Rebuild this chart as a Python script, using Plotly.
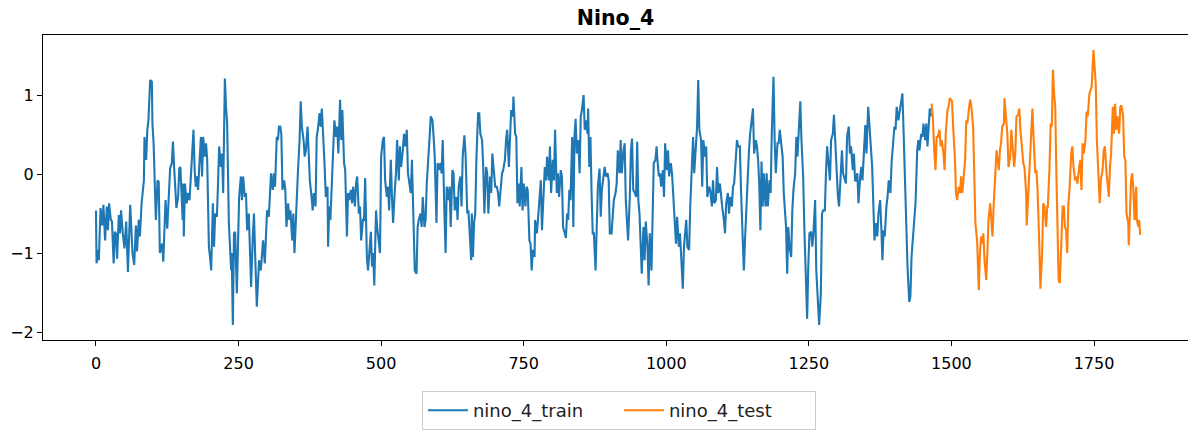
import plotly.graph_objects as go

# ---- data (time index, anomaly value) ----
train_x = [
    0,1,4,5,8,11,13,16,19,21,23,26,28,31,33,35,37,40,42,44,47,50,53,56,60,64,67,70,72,75,
    77,80,84,85,88,90,92,95,98,99,101,103,105,108,110,112,116,118,122,125,127,130,133,135,137,139,141,144,146,148,
    150,152,153,
    154,156,159,161,164,166,168,171,173,175,177,179,181,184,186,188,191,193,195,198,
    200,202,205,207,209,212,214,216,219,221,223,226,228,230,233,235,237,238,240,242,
    244,247,249,251,254,256,258,261,263,265,268,270,272,275,277,279,282,284,286,289,
    291,293,296,298,300,303,305,307,310,312,314,317,319,321,
    323,325,327,330,332,334,337,339,341,344,346,348,350,352,354,357,359,361,364,366,
    368,371,373,375,378,380,382,385,387,389,392,394,396,399,401,403,406,407,409,411,
    414,416,418,421,423,425,428,430,432,435,437,440,442,444,447,449,451,454,456,458,
    461,463,465,468,470,472,475,477,479,482,484,486,488,490,
    491,493,496,498,500,503,505,507,510,512,514,517,519,521,524,526,528,531,533,535,
    538,540,542,545,547,549,552,554,556,559,562,564,566,569,571,573,576,578,580,583,
    585,587,590,592,594,597,599,601,604,606,608,611,613,615,618,620,622,625,627,629,
    632,634,636,639,641,643,646,648,651,653,655,658,
    659,661,663,665,667,670,672,674,677,679,681,684,686,688,691,693,695,698,700,703,
    705,707,710,712,714,717,719,721,724,726,728,731,732,735,737,739,741,743,746,748,
    750,753,755,757,760,762,764,766,769,770,773,775,777,780,782,784,787,789,791,794,
    796,798,801,803,805,808,810,812,815,817,819,822,824,826,
    828,830,832,835,837,839,841,843,846,848,850,852,855,857,859,862,863,865,867,869,
    871,873,876,878,880,883,885,887,890,892,894,897,899,901,904,906,908,911,913,915,
    918,920,922,925,927,929,932,933,936,938,940,942,945,947,949,951,953,955,957,960,
    962,964,967,969,971,974,976,978,981,983,984,987,989,991,994,
    996,998,1001,1003,1005,1008,1010,1012,1015,1017,1019,1022,1024,1026,1029,1031,1033,1035,1037,1040,
    1042,1044,1047,1049,1051,1054,1056,1058,1061,1063,1065,1068,1070,1072,1075,1077,1080,1082,1084,1087,
    1089,1091,1094,1096,1098,1101,1103,1105,1108,1110,1112,1115,1117,1119,1122,1124,1126,1129,1131,1133,
    1136,1138,1140,1143,1145,1147,1150,1152,1154,1157,1159,1161,1163,
    1165,1167,1169,1171,1174,1176,1178,1181,1183,1185,1188,1190,1192,1195,1197,1199,1202,1204,1206,1208,
    1210,1212,1214,1216,1219,1221,1223,1226,1228,1230,1233,1235,1237,1240,1242,1244,1247,1249,1251,1254,
    1256,1258,1261,1263,1265,1268,1271,1273,1275,1278,1280,1282,1285,1287,1289,1292,1294,1296,1299,1301,
    1303,1306,1308,1310,1313,1315,1317,1320,1322,1324,1327,1329,1331,
    1333,1335,1337,1340,1342,1344,1347,1349,1351,1354,1356,1358,1361,1363,1365,1368,1370,1372,1375,1377,
    1379,1381,1383,1386,1388,1390,1393,1395,1397,1400,1402,1404,1407,1409,1411,1414,1416,1419,1421,1423,
    1426,1428,1430,1433,1435,1437,1440,1442,1444,1447,1449,1451,1454,1456,1458,1461,1462,1464,
]
train_y = [
    -0.46,-1.13,-0.96,-1.09,-0.43,-0.65,-0.39,-0.84,-0.41,-0.71,-0.37,-0.58,-0.60,-1.13,-0.73,-0.75,-1.07,-0.52,-0.75,-0.46,
    -0.75,-0.94,-0.60,-1.24,-0.39,-1.00,-1.15,-0.65,-0.98,-0.58,-0.79,-0.37,-0.08,0.47,0.18,0.56,0.68,1.19,1.17,0.64,
    0.39,-0.16,-0.58,-0.08,-0.10,-1.00,-0.88,-1.11,-0.33,-0.69,-0.41,0.07,0.14,0.41,0.09,-0.29,-0.43,-0.29,0.07,0.09,
    -0.24,-0.58,-0.12,
    -0.79,-0.12,-0.37,-0.24,-0.33,-0.08,0.18,0.56,0.05,-0.16,-0.03,-0.20,0.09,0.47,-0.03,0.47,0.22,0.39,0.18,-0.92,
    -1.05,-1.22,-0.37,-0.92,-0.50,-0.54,-0.12,0.35,0.09,0.26,-0.24,1.21,0.85,0.64,-0.62,-0.92,-1.22,-1.00,-1.91,-0.75,
    -0.73,-1.51,-0.92,-0.29,-0.03,-0.33,-0.03,-0.29,-0.24,-0.71,-0.50,-0.92,-1.43,-0.79,-0.50,-1.00,-1.68,-1.38,-1.09,-1.22,
    -1.00,-0.84,-1.13,-0.67,-0.46,-0.54,-0.33,0.01,-0.20,0.01,-0.16,0.47,0.43,0.60,
    0.60,0.51,-0.20,-0.08,-0.20,-0.67,-0.37,-0.58,-0.46,-0.84,-0.50,-1.00,-0.67,-0.24,0.01,0.43,0.92,0.60,0.43,0.22,
    0.30,0.60,0.18,-0.08,-0.29,-0.46,-0.24,-0.41,0.47,0.56,0.77,0.60,0.83,0.47,0.09,-0.29,-0.16,-0.92,-0.41,-0.58,
    -0.08,0.43,0.68,0.47,0.60,0.26,0.94,0.43,0.81,0.14,0.05,-0.79,-0.24,-0.33,-0.20,-0.37,-0.16,-0.41,-0.12,-0.03,
    -0.50,-0.41,-0.84,-0.58,-0.58,-0.05,-1.05,-1.22,-0.96,-0.73,-1.17,-1.00,-1.41,-0.92,
    -0.46,-0.67,-0.92,-1.00,0.22,0.43,0.47,-0.08,-0.29,-0.16,-0.46,0.18,-0.29,-0.62,-0.20,0.01,0.43,-0.08,0.35,0.09,
    0.30,0.51,0.35,0.56,0.01,-0.08,-0.24,0.18,-0.33,-1.22,-1.26,-0.67,-0.58,-0.50,-0.67,-0.29,-0.67,-0.58,-0.12,0.18,
    0.47,0.73,0.68,0.47,0.22,-0.62,0.14,0.05,0.14,0.01,0.43,-0.50,-1.00,-0.16,-0.33,-0.16,-0.67,0.05,0.01,-0.46,
    -0.29,-0.58,-0.16,-0.03,-0.41,0.22,0.49,0.26,-0.50,-0.46,-0.75,-1.09,
    -0.50,-1.05,-0.62,-0.50,0.18,0.77,0.77,0.51,0.43,0.09,-0.50,0.09,0.01,-0.50,-0.03,-0.24,0.26,0.01,-0.16,-0.16,
    -0.24,-0.41,-0.20,0.01,0.05,0.18,0.43,0.56,0.09,0.43,0.81,0.73,0.98,0.51,0.47,-0.37,-0.12,-0.41,0.09,-0.46,
    -0.12,-0.41,-0.16,-0.20,-0.84,-0.88,-1.22,-0.96,-1.05,-0.58,-0.75,-0.58,-0.37,-0.08,-0.71,-0.29,0.09,-0.08,0.22,-0.08,
    0.35,-0.24,0.18,-0.08,0.56,-0.24,0.01,-0.29,0.05,-0.03,-0.67,-0.75,-0.81,-0.50,
    -0.58,-0.20,-0.33,0.47,-0.67,0.47,0.70,0.26,0.43,0.01,0.73,0.81,1.00,0.56,0.68,0.51,0.83,0.09,0.47,-0.24,
    -0.75,-0.75,-1.22,-0.67,-0.16,0.07,-0.54,-0.20,-0.03,0.09,-0.03,0.01,-0.08,-0.75,-0.75,-0.54,-0.33,-0.24,-0.12,0.30,
    0.01,0.43,0.01,0.30,0.39,-0.33,-0.67,-0.84,-0.29,0.30,0.45,-0.20,-0.24,-0.29,0.41,-0.33,-0.50,-0.84,-1.26,-0.67,
    -1.09,-0.60,-0.92,-1.41,-0.75,-1.22,-0.37,0.14,0.18,0.35,0.22,-0.03,0.01,-0.16,0.05,
    -0.29,0.39,0.05,0.30,-0.03,0.14,0.01,-0.24,-0.71,-0.88,-0.54,-0.92,-0.75,-1.05,-1.45,-0.92,-0.67,-0.58,-0.92,-0.96,
    -0.41,0.01,0.47,0.01,0.22,0.60,1.19,0.56,0.43,-0.16,0.43,0.22,0.35,-0.29,-0.16,-0.20,-0.41,-0.08,-0.37,-0.33,
    0.09,-0.24,-0.12,-0.29,-0.41,-0.58,-0.75,-0.37,-0.24,-0.50,-0.29,-0.41,-0.16,-0.12,0.26,0.43,0.35,0.35,-0.20,-0.75,
    -1.22,-0.84,-0.46,-0.12,0.30,0.51,0.68,0.83,0.26,0.43,0.35,0.18,-0.12,
    -0.71,0.16,-0.41,0.01,-0.41,0.01,-0.41,-0.08,-0.24,0.51,1.23,0.43,0.01,0.39,0.39,0.56,0.39,0.22,-0.24,-0.54,
    -0.67,-1.26,-0.67,-0.92,-1.05,-0.46,-0.20,0.01,0.47,0.22,0.73,0.92,0.43,-0.03,-0.67,-1.26,-1.83,-1.17,-0.75,-0.73,
    -0.92,-0.75,-0.33,-1.22,-1.55,-1.91,-1.51,-0.50,-0.46,-0.46,0.01,0.35,0.09,-0.08,0.43,0.51,0.75,0.43,-0.03,-0.29,
    -0.41,-0.03,0.30,0.01,-0.08,-0.12,0.47,0.60,0.26,0.35,0.05,0.26,-0.08,
    -0.08,0.01,-0.37,-0.03,0.09,-0.08,0.26,0.62,0.26,0.85,0.64,0.43,0.09,-0.37,-0.84,-0.62,-0.79,-0.50,-0.33,-0.67,
    -1.09,-0.71,-0.79,-0.41,-0.29,-0.08,-0.24,0.14,0.35,0.60,0.56,0.85,0.68,0.77,0.89,1.02,0.56,-0.20,-0.88,-1.17,
    -1.62,-1.55,-1.05,-0.79,-0.58,-0.37,0.30,0.43,0.30,0.51,0.47,0.64,0.43,0.64,0.35,0.68,0.83,0.73,
]

test_x = [
    1465,1467,1469,1472,1474,1476,1479,1481,1483,1486,1488,1490,1493,1495,1497,
    1501,1503,1506,1508,1510,1513,1515,1517,1519,1521,1524,1526,1528,1531,1533,1535,1538,1540,1542,1545,
    1547,1548,1550,1552,1555,1556,1558,1561,1563,1565,1568,1570,1572,1574,1576,1579,1581,1583,1585,1587,
    1589,1592,1593,1596,1598,1600,1603,1605,1607,1610,1612,1614,1617,1619,1621,1624,1626,1628,1631,1632,
    1635,1637,1640,1642,1644,1647,1649,1651,1654,1655,1656,1659,1661,1663,1666,1668,
    1669,1672,1674,1676,1678,1680,1682,1684,1686,1688,1690,1693,1695,1697,1699,1701,1703,1705,1707,1710,
    1712,1714,1717,1719,1721,1724,1726,1728,1730,1732,1735,1737,1739,1742,1744,1746,1749,1751,1753,1755,
    1758,1760,1762,1765,1767,1769,1772,1774,1776,1778,1780,1783,1785,1787,1789,1791,1794,1796,1798,1801,
    1803,1805,1807,1810,1811,1813,1815,1817,1819,1821,1824,1825,1828,1829,1831,
]
test_y = [
    0.89,0.77,0.43,0.05,0.47,0.47,0.56,0.35,0.43,0.26,0.05,0.51,0.81,0.85,0.96,
    0.92,0.60,0.22,-0.24,-0.33,-0.16,-0.24,-0.03,-0.24,-0.08,0.18,0.68,0.64,0.85,0.94,0.85,0.60,0.01,-0.62,-0.84,
    -1.17,-1.47,-1.00,-0.79,-0.88,-0.75,-1.09,-1.34,-1.00,-0.58,-0.37,-0.67,-0.79,-0.41,-0.03,0.30,0.18,0.05,0.30,0.39,
    0.60,0.64,0.96,0.68,0.51,0.09,0.22,0.56,0.35,0.09,0.26,0.73,0.75,0.83,0.56,0.30,0.14,0.09,-0.24,-0.65,
    -0.16,0.18,0.64,0.83,0.47,0.01,0.05,-0.20,-0.88,-1.09,-1.45,-1.00,-0.37,-0.41,-0.67,-0.41,
    -0.41,0.09,0.64,0.60,1.32,1.02,0.85,0.01,-0.62,-1.34,-1.38,-0.75,-0.41,-0.41,-0.67,-0.71,-1.00,-0.37,-0.20,0.26,
    0.35,0.09,-0.08,-0.03,-0.12,0.09,0.18,-0.20,0.39,0.26,0.43,0.79,0.73,1.02,1.06,1.11,1.57,1.32,1.15,0.43,
    -0.08,-0.37,-0.08,0.05,0.30,0.35,0.01,-0.16,-0.29,0.09,0.26,0.85,0.51,0.89,0.56,0.73,0.51,0.85,0.87,0.73,
    0.22,0.18,-0.50,-0.62,-0.90,-0.50,-0.08,0.01,-0.20,-0.58,-0.16,-0.58,-0.67,-0.58,-0.77,
]

assert len(train_x) == len(train_y), (len(train_x), len(train_y))
assert len(test_x) == len(test_y), (len(test_x), len(test_y))

x_ticks = [0, 250, 500, 750, 1000, 1250, 1500, 1750]
y_ticks = [-2, -1, 0, 1]

FONT = "DejaVu Sans"

fig = go.Figure()
fig.add_trace(go.Scatter(x=train_x, y=train_y, mode="lines", name="nino_4_train",
                         line=dict(color="#1f77b4", width=2.1)))
fig.add_trace(go.Scatter(x=test_x, y=test_y, mode="lines", name="nino_4_test",
                         line=dict(color="#ff7f0e", width=2.1)))

fig.update_layout(
    width=1188, height=430,
    margin=dict(l=43, r=0, t=35, b=90, autoexpand=False),
    paper_bgcolor="white", plot_bgcolor="white",
    font=dict(family=FONT, color="black", size=16),
    title=dict(text="<b>Nino_4</b>", x=0.5, xref="paper", y=1 - 18 / 430,
               yref="container", xanchor="center", yanchor="middle",
               font=dict(family=FONT, size=20.5, color="black")),
    showlegend=True,
    legend=dict(orientation="h", x=0.503, xanchor="center",
                y=1 - 391 / 430, yanchor="top",
                xref="paper", yref="container",
                font=dict(family=FONT, size=18, color="#222"),
                bordercolor="#cccccc", borderwidth=1, bgcolor="white",
                itemwidth=40, entrywidth=141, traceorder="normal"),
    xaxis=dict(range=[-92.9, 1914.8], tickvals=x_ticks, showgrid=False, zeroline=False,
               showline=True, linecolor="black", linewidth=1, mirror=True,
               ticks="outside", ticklen=5, tickwidth=1, tickcolor="black",
               ticklabelstandoff=4, automargin=False,
               tickfont=dict(size=16, family=FONT)),
    yaxis=dict(range=[-2.10, 1.76], tickvals=y_ticks, showgrid=False, zeroline=False,
               showline=True, linecolor="black", linewidth=1, mirror=False,
               ticks="outside", ticklen=5, tickwidth=1, tickcolor="black",
               automargin=False,
               tickfont=dict(size=16, family=FONT)),
)

fig.write_html("out.html",
               config={"displayModeBar": False},
               post_script="document.body.style.margin='0';document.body.style.overflow='hidden';")
